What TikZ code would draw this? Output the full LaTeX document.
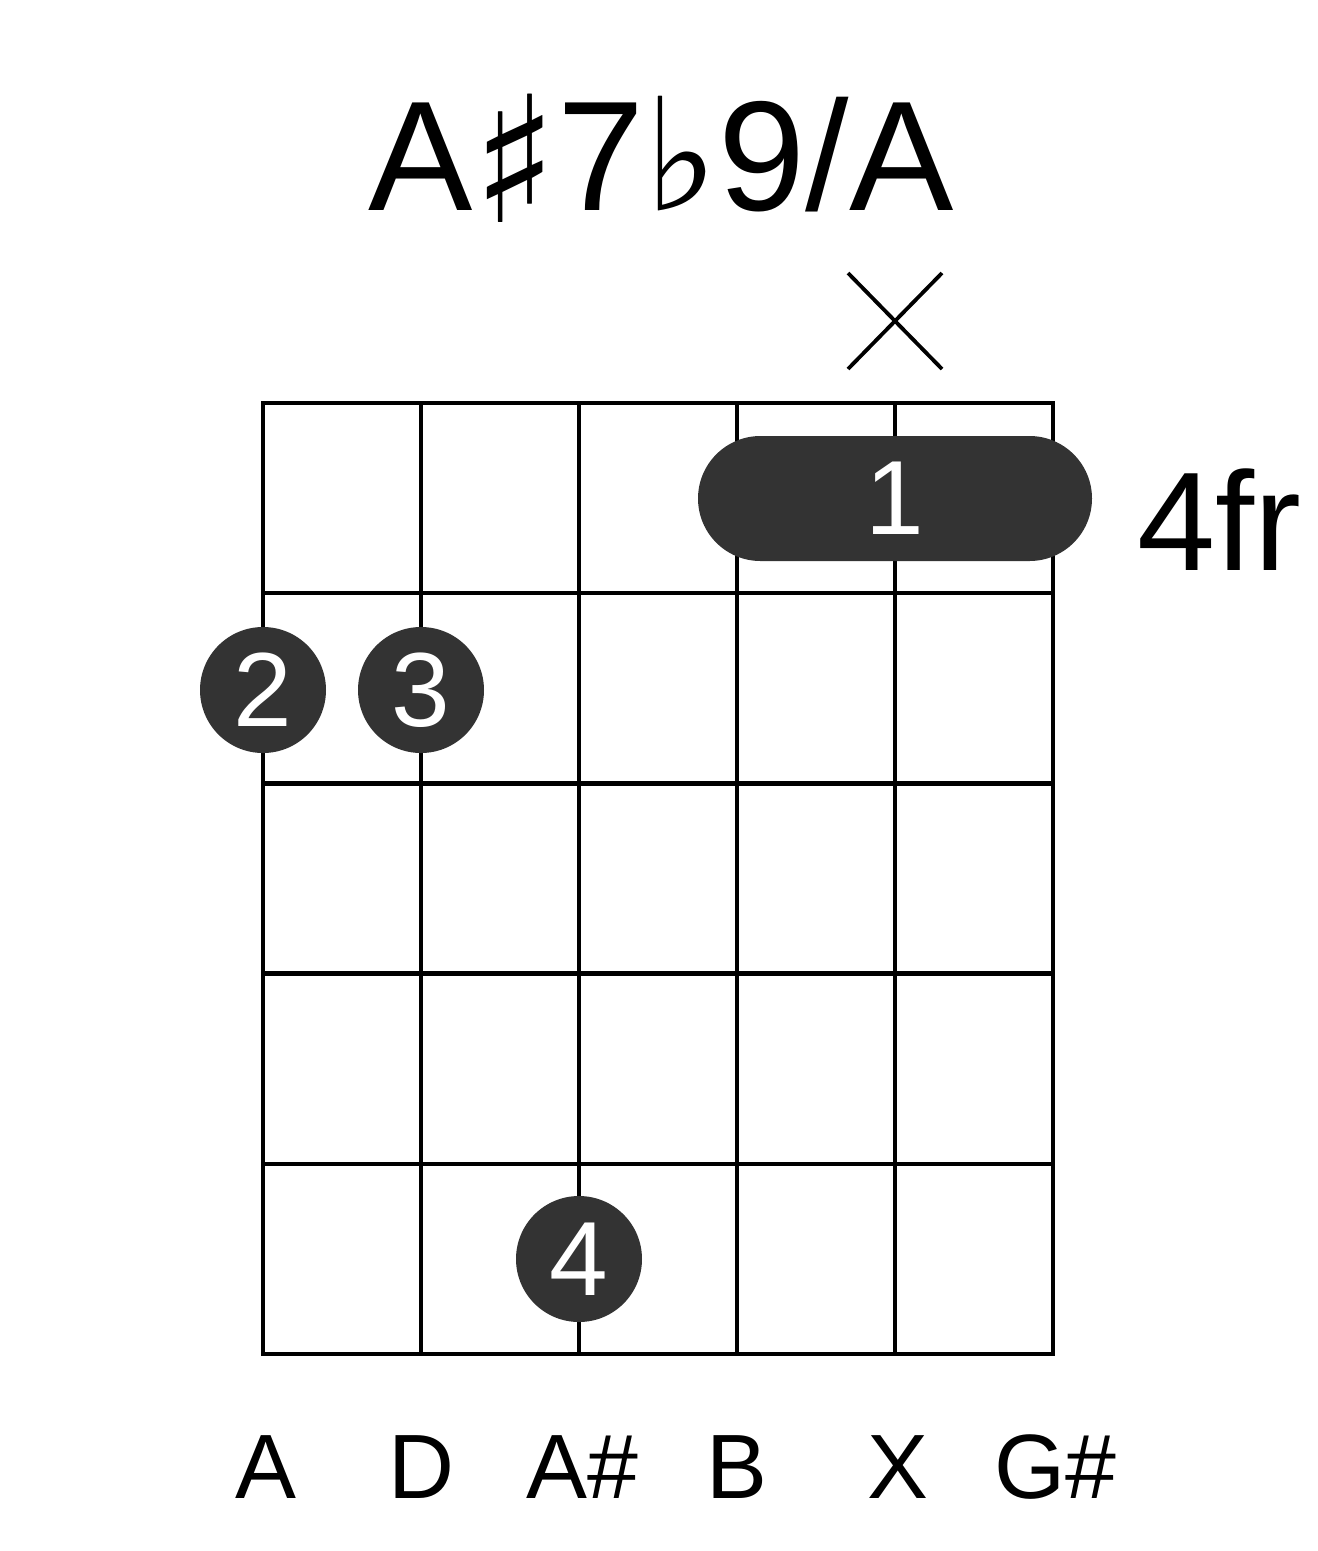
\documentclass[tikz,border=0pt]{standalone}
\usepackage{fontspec}
\setmainfont{Liberation Sans}
\newfontfamily\symfont{DejaVu Sans}
\usetikzlibrary{shapes.misc}
\definecolor{dotgray}{HTML}{333333}

\begin{document}
\begin{tikzpicture}[x=0.1mm,y=-0.1mm,line width=0.45mm,
      every node/.style={inner sep=0pt},
      dot/.style={circle,fill=dotgray,minimum size=12.6mm,text=white,
        font=\fontsize{30}{30}\selectfont},
      barre/.style={rounded rectangle,fill=dotgray,minimum width=39.4mm,
        minimum height=12.5mm,text=white,font=\fontsize{30}{30}\selectfont},
      lbl/.style={anchor=base,font=\fontsize{26}{26}\selectfont}]
      \useasboundingbox(0,0)rectangle(1317,1551);
      \node[anchor=base,font=\fontsize{44.5}{46}\selectfont](title)at(661,210)
        {A\raisebox{-1.2mm}{\symfont\fontsize{50}{50}\selectfont ♯}7{\symfont ♭}9/A};
      % strings and frets
      \foreach \i in {1,...,4}
        \draw(263+158*\i,403)--(263+158*\i,1354);
      \foreach \j in {1,...,4}
        \draw(263,403+190.2*\j)--(1053,403+190.2*\j);
      \draw(263,403)rectangle(1053,1354);
      % muted string
      \coordinate(mute)at(895,321);
      \draw[line width=0.38mm]([shift={(-47,-48)}]mute)--([shift={(47,48)}]mute)
        ([shift={(-47,48)}]mute)--([shift={(47,-48)}]mute);
      \node[barre](b1)at(895,498.5){1};
      \node[dot](f2)at(263,690){2};
      \node[dot](f3)at(421,690){3};
      \node[dot](f4)at(579,1259){4};
      \node[anchor=base west,font=\fontsize{40}{40}\selectfont](fr)at(1135,570){4fr};
      \foreach \x/\n/\t in {266/s1/A,421/s2/D,582/s3/A\#,737/s4/B,898/s5/X,1055/s6/G\#}
        \node[lbl](\n)at(\x,1498){\t};
   \end{tikzpicture}
\end{document}
